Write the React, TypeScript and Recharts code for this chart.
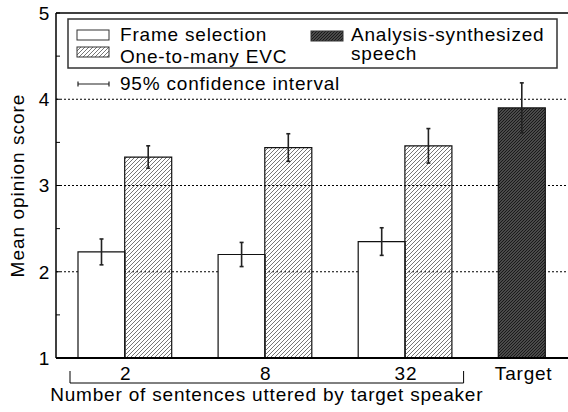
import React from 'react';
import { BarChart, Bar, XAxis, YAxis, CartesianGrid, ErrorBar, Cell, ReferenceLine, Customized } from 'recharts';

const groups = ['2', '8', '32'];
const frameSelection = [2.23, 2.2, 2.35];
const frameSelectionCI = [0.15, 0.14, 0.16];
const oneToManyEvc = [3.33, 3.44, 3.46];
const oneToManyEvcCI = [0.13, 0.16, 0.2];
const targetLabel = 'Target';
const analysisSynth = 3.9;
const analysisSynthCI = 0.29;
const yTicks = [1, 1.5, 2, 2.5, 3, 3.5, 4, 4.5, 5];
const gridValues = [2, 3, 4];
const xTitle = 'Number of sentences uttered by target speaker';
const yTitle = 'Mean opinion score';

type Kind = 'fs' | 'evc' | 'gap' | 'as';
type Row = { slot: string; label: string; kind: Kind; group: number; value: number | null; ci: number | null };

// one band per bar slot, with an empty slot between groups
const rows: Row[] = [];
groups.forEach((g, i) => {
  rows.push({ slot: `fs-${g}`, label: g, kind: 'fs', group: i, value: frameSelection[i], ci: frameSelectionCI[i] });
  rows.push({ slot: `evc-${g}`, label: '', kind: 'evc', group: i, value: oneToManyEvc[i], ci: oneToManyEvcCI[i] });
  rows.push({ slot: `gap-${g}`, label: '', kind: 'gap', group: i, value: null, ci: null });
});
rows.push({ slot: 'target', label: targetLabel, kind: 'as', group: -1, value: analysisSynth, ci: analysisSynthCI });

const Y_MIN = 1;
const Y_MAX = 5;
const W = 580;
const H = 412;
const MARGIN = { top: 13, right: 10, bottom: 0, left: 0 };
const Y_W = 56;
const PAD_L = 22;
const PAD_R = 25;
const X_H = 54;
const SLOT = (W - MARGIN.right - MARGIN.left - Y_W - PAD_L - PAD_R) / rows.length;

const FONT = '"Liberation Sans", Arial, Helvetica, sans-serif';
const FS = 19;
const LS = 0.8;
const textStyle = { fontFamily: FONT, fontSize: FS, letterSpacing: LS, fill: '#000' };

const fills: Record<Kind, string> = {
  fs: '#fff',
  evc: 'url(#evcHatch)',
  gap: 'none',
  as: 'url(#asHatch)',
};

const YTick = (props: any) => {
  const { x, y, payload } = props;
  const major = Number.isInteger(payload.value);
  return (
    <g>
      <line x1={x + 6} x2={x + 10} y1={y} y2={y} stroke="#000" strokeWidth={1} />
      {major && (
        <text x={x} y={y} dy={6.8} textAnchor="end" style={textStyle}>
          {payload.value}
        </text>
      )}
    </g>
  );
};

const RightTick = (props: any) => {
  const { x, y } = props;
  return <line x1={x - 4} x2={x} y1={y} y2={y} stroke="#000" strokeWidth={1} />;
};

const XTick = (props: any) => {
  const { x, y, payload } = props;
  const row = rows.find((r) => r.slot === payload.value);
  if (!row) return null;
  if (row.kind === 'fs') {
    const cx = x + SLOT / 2;
    let bracket = null;
    if (row.group === 0) {
      const left = x - SLOT / 2 - 8;
      const right = x - SLOT / 2 + (groups.length * 3 - 1) * SLOT + 12;
      bracket = (
        <g>
          <path
            d={`M${left},${y + 13} V${y + 25} H${right} V${y + 13}`}
            fill="none"
            stroke="#000"
            strokeWidth={1}
          />
          <text x={(left + right) / 2} y={y + 42.5} textAnchor="middle" style={textStyle}>
            {xTitle}
          </text>
        </g>
      );
    }
    return (
      <g>
        <text x={cx + 1} y={y + 21.5} textAnchor="middle" style={textStyle}>
          {row.label}
        </text>
        {bracket}
      </g>
    );
  }
  if (row.kind === 'as') {
    return (
      <text x={x + 2} y={y + 22} textAnchor="middle" style={textStyle}>
        {row.label}
      </text>
    );
  }
  return null;
};

const YTitle = (props: any) => {
  const vb = props.viewBox || { x: 0, y: MARGIN.top, width: Y_W, height: H - MARGIN.top - X_H };
  const cx = vb.x + 23.5;
  const cy = vb.y + vb.height / 2;
  return (
    <text x={cx} y={cy} transform={`rotate(-90 ${cx} ${cy})`} textAnchor="middle" style={{ ...textStyle, letterSpacing: 1 }}>
      {yTitle}
    </text>
  );
};

const LegendBox = () => (
  <g>
    <rect x={68} y={19} width={489} height={49} fill="#fff" stroke="#333" strokeWidth={1.5} />
    <rect x={77} y={30} width={32} height={10} fill="#fff" stroke="#333" strokeWidth={1} />
    <text x={120} y={41} style={textStyle}>Frame selection</text>
    <rect x={77} y={47} width={32} height={10} fill="url(#evcHatch)" stroke="#333" strokeWidth={1} />
    <text x={120} y={63} style={textStyle}>One-to-many EVC</text>
    <rect x={311} y={31} width={32} height={10} fill="url(#asHatch)" stroke="#333" strokeWidth={1} />
    <text x={351} y={41} style={textStyle}>Analysis-synthesized</text>
    <text x={351} y={60} style={textStyle}>speech</text>
    <path d="M78,84 H109 M78,81.5 V86.5 M109,81.5 V86.5" stroke="#222" strokeWidth={1.2} fill="none" />
    <text x={120} y={90} style={textStyle}>95% confidence interval</text>
  </g>
);

export default function App() {
  return (
    <div style={{ position: 'fixed', left: 0, top: 0, width: 568, height: 412, overflow: 'hidden', background: '#fff' }}>
      <BarChart width={W} height={H} data={rows} margin={MARGIN} barCategoryGap={0} barGap={0}>
        <defs>
          <pattern id="evcHatch" patternUnits="userSpaceOnUse" width={4} height={4}>
            <path d="M-1,1 l2,-2 M0,4 l4,-4 M3,5 l2,-2" stroke="#666" strokeWidth={0.9} />
          </pattern>
          <pattern id="asHatch" patternUnits="userSpaceOnUse" width={3} height={3}>
            <rect width={3} height={3} fill="#4a4a4a" />
            <path d="M-1,1 l2,-2 M0,3 l3,-3 M2,4 l2,-2" stroke="#1a1a1a" strokeWidth={1} />
          </pattern>
        </defs>
        <CartesianGrid
          vertical={false}
          stroke="#000"
          strokeDasharray="2 2"
          horizontalCoordinatesGenerator={({ offset }: any) =>
            gridValues.map((v) => offset.top + ((Y_MAX - v) / (Y_MAX - Y_MIN)) * offset.height)
          }
        />
        <XAxis
          dataKey="slot"
          height={X_H}
          padding={{ left: PAD_L, right: PAD_R }}
          interval={0}
          tickLine={false}
          tickSize={0}
          tickMargin={0}
          tick={<XTick />}
          axisLine={{ stroke: '#000', strokeWidth: 2 }}
        />
        <YAxis
          width={Y_W}
          domain={[Y_MIN, Y_MAX]}
          ticks={yTicks}
          interval={0}
          allowDataOverflow
          tickLine={false}
          tickSize={0}
          tickMargin={6}
          tick={<YTick />}
          axisLine={{ stroke: '#000', strokeWidth: 1.5 }}
          label={<YTitle />}
        />
        <YAxis
          yAxisId="right"
          orientation="right"
          width={0}
          domain={[Y_MIN, Y_MAX]}
          ticks={yTicks}
          interval={0}
          tickLine={false}
          tickSize={0}
          tickMargin={0}
          tick={<RightTick />}
          axisLine={{ stroke: '#000', strokeWidth: 1.5 }}
        />
        <ReferenceLine y={Y_MAX} stroke="#000" strokeWidth={1.5} />
        <Bar dataKey="value" isAnimationActive={false} stroke="#111" strokeWidth={1.2}>
          {rows.map((r) => (
            <Cell key={r.slot} fill={fills[r.kind]} stroke={r.kind === 'gap' ? 'none' : '#111'} />
          ))}
          <ErrorBar dataKey="ci" width={2} stroke="#222" strokeWidth={1.6} direction="y" />
        </Bar>
        <Customized component={<LegendBox />} />
      </BarChart>
    </div>
  );
}
